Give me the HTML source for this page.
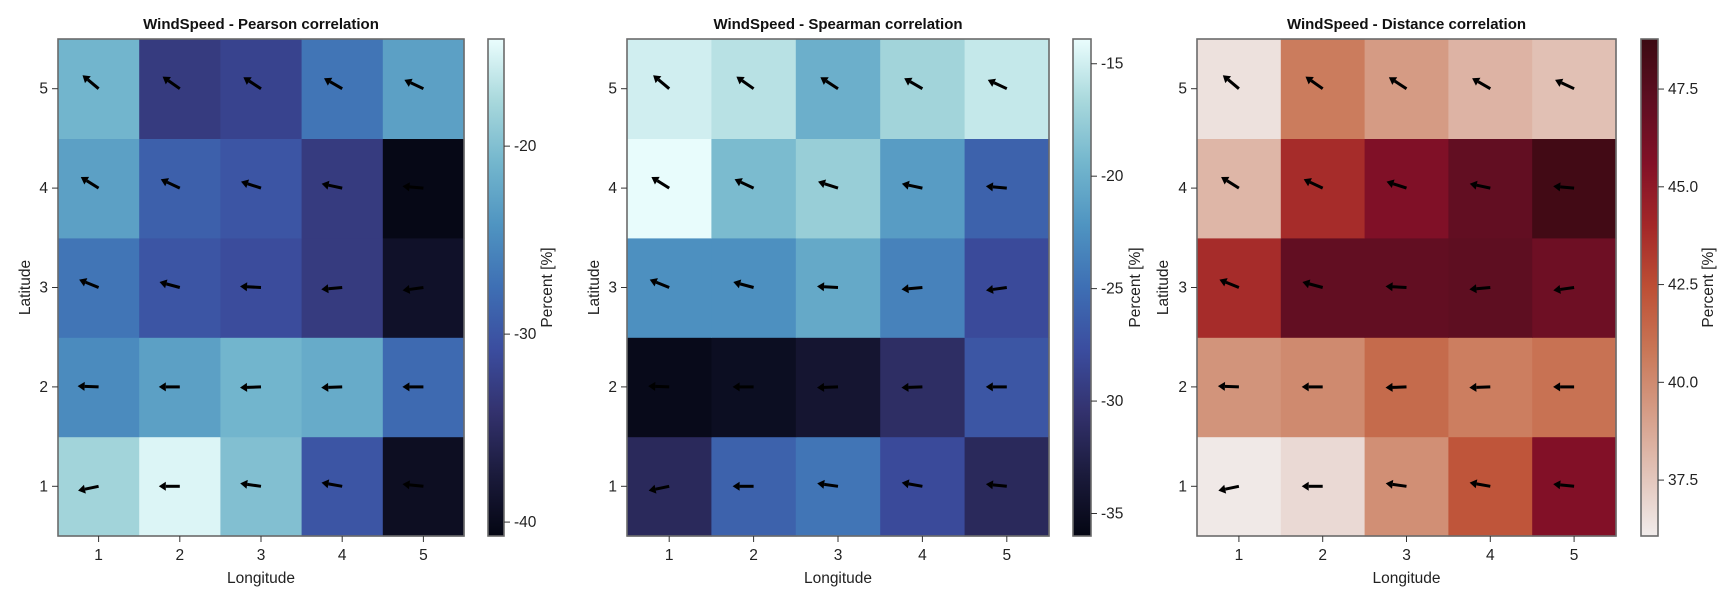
<!DOCTYPE html>
<html><head><meta charset="utf-8"><style>
body{margin:0;background:#fff;}
svg{display:block;font-family:"Liberation Sans",Arial,sans-serif;}
</style></head><body>
<svg id="fig" width="1720" height="600" viewBox="0 0 1720 600" xmlns="http://www.w3.org/2000/svg"></svg>
<script>
// Shared grid data
const lons = [1,2,3,4,5];
const lats = [1,2,3,4,5];
// wind direction vectors, rows indexed by latitude 1..5
const windU = [
 [-0.978,-1,-0.99,-0.985,-0.995],
 [-0.999,-1,-0.999,-0.999,-1],
 [-0.927,-0.966,-0.999,-0.996,-0.99],
 [-0.848,-0.906,-0.951,-0.978,-0.996],
 [-0.766,-0.819,-0.839,-0.866,-0.906]];
const windV = [
 [-0.208,0,0.139,0.174,0.105],
 [0.035,0,-0.035,-0.035,0],
 [0.375,0.259,0.052,-0.087,-0.139],
 [0.53,0.423,0.309,0.208,0.087],
 [0.643,0.574,0.545,0.5,0.423]];
// values rows indexed by latitude 1..5
const pearsonVals = [
 [-18,-15,-20,-30,-39.5],
 [-25,-23,-21,-22,-28],
 [-27,-30,-31,-33,-39],
 [-23,-29,-30,-33,-40.5],
 [-21,-33,-32,-27,-23]];
const spearmanVals = [
 [-31.5,-26,-24.5,-28,-31.5],
 [-35.5,-35,-34,-31,-27],
 [-22.5,-22.5,-20.5,-23.5,-28],
 [-14,-19,-17.5,-21.5,-26],
 [-15,-16,-20,-17,-15.5]];
const distanceVals = [
 [36.2,36.8,39.8,42.2,45.6],
 [39.6,40.0,41.3,40.5,41.0],
 [43.8,47,47,47.2,46.5],
 [38.2,43.8,45.7,47,48.5],
 [36.5,40.6,39.3,38.3,37.8]];
const pearsonTicks = [-40,-30,-20];
const spearmanTicks = [-35,-30,-25,-20,-15];
const distanceTicks = [37.5,40.0,42.5,45.0,47.5];

const ice = ["#040613","#1b1b3c","#33326e","#3b4d9f","#3e6fb4","#4f94c1","#73b6cd","#a8d8dc","#eafdfd"];
const amp = ["#f1eceb","#e2c3b8","#d59c86","#c97656","#bd4f35","#a32728","#821027","#5e0e21","#3c0912"];

const panels = [
 {title:"WindSpeed - Pearson correlation", vals:pearsonVals, ticks:pearsonTicks, dec:0, cmin:-40.74, cmax:-14.3, cmap:ice, x0:58, x1:464, cb0:488, cb1:504, ylab:25, clab:552, key:"pearson"},
 {title:"WindSpeed - Spearman correlation", vals:spearmanVals, ticks:spearmanTicks, dec:0, cmin:-36.0, cmax:-13.9, cmap:ice, x0:627, x1:1049, cb0:1073, cb1:1091, ylab:594, clab:1140, key:"spearman"},
 {title:"WindSpeed - Distance correlation", vals:distanceVals, ticks:distanceTicks, dec:1, cmin:36.07, cmax:48.78, cmap:amp, x0:1197, x1:1616, cb0:1641, cb1:1658, ylab:1163, clab:1713, key:"distance"}
];
const Y0=39, Y1=536;
const NS="http://www.w3.org/2000/svg";
const svg=document.getElementById("fig");
function mk(tag,attrs,parent){const e=document.createElementNS(NS,tag);for(const k in attrs)e.setAttribute(k,attrs[k]);(parent||svg).appendChild(e);return e;}
function hex(h){return [1,3,5].map(i=>parseInt(h.substr(i,2),16));}
function cmapColor(cm,t){t=Math.max(0,Math.min(1,t));const n=cm.length-1;const i=Math.min(n-1,Math.floor(t*n));const f=t*n-i;const a=hex(cm[i]),b=hex(cm[i+1]);return "rgb("+a.map((v,k)=>Math.round(v+(b[k]-v)*f)).join(",")+")";}

panels.forEach(p=>{
 const g=mk("g",{});
 
 
 const cw=(p.x1-p.x0)/5, ch=(Y1-Y0)/5;
 const xs=v=>p.x0+(v-0.5)*cw;
 const ys=v=>Y1-(v-0.5)*ch;
 const cs=v=>(v-p.cmin)/(p.cmax-p.cmin);
 const t=mk("text",{x:(p.x0+p.x1)/2,y:29,"text-anchor":"middle","font-size":"15","font-weight":"bold",fill:"#111"},g);
 t.textContent=p.title;
 
 
 lats.forEach((la,r)=>{lons.forEach((lo,c)=>{
  const rc=mk("rect",{x:xs(lo-0.5),y:ys(la+0.5),width:cw+0.6,height:ch+0.6,fill:cmapColor(p.cmap,cs(p.vals[r][c]))},g);
  
  
 });});
 lats.forEach((la,r)=>{lons.forEach((lo,c)=>{
  const L=21, tx=xs(lo), ty=ys(la);
  const u=windU[r][c], v=windV[r][c];
  const hx=tx+u*L, hy=ty-v*L;
  const px=-v, py=-u;
  const bx=hx-u*7, by=hy+v*7;
  const a=mk("g",{},g);
  
  
  mk("line",{x1:tx,y1:ty,x2:bx,y2:by,stroke:"#000","stroke-width":"3"},a);
  mk("polygon",{points:`${hx},${hy} ${bx+px*4.5},${by+py*4.5} ${bx-px*4.5},${by-py*4.5}`,fill:"#000"},a);
 });});
 const fr=mk("rect",{x:p.x0,y:Y0,width:p.x1-p.x0,height:Y1-Y0,fill:"none",stroke:"#6b6b6b","stroke-width":"1.6"},g);
 
 
 lons.forEach(lo=>{
  mk("line",{x1:xs(lo),y1:Y1,x2:xs(lo),y2:Y1+6,stroke:"#333","stroke-width":"1"},g);
  const tt=mk("text",{x:xs(lo),y:Y1+24,"text-anchor":"middle","font-size":"15.5",fill:"#222"},g);
  tt.textContent=lo;
  
  
 });
 lats.forEach(la=>{
  mk("line",{x1:p.x0-6,y1:ys(la),x2:p.x0,y2:ys(la),stroke:"#333","stroke-width":"1"},g);
  const tt=mk("text",{x:p.x0-10,y:ys(la)+5,"text-anchor":"end","font-size":"15.5",fill:"#222"},g);
  tt.textContent=la;
  
  
 });
 const xl=mk("text",{x:(p.x0+p.x1)/2,y:583,"text-anchor":"middle","font-size":"15.5",fill:"#222"},g);
 xl.textContent="Longitude";
 
 
 const yl=mk("text",{x:0,y:0,transform:`translate(${p.ylab+5},${(Y0+Y1)/2}) rotate(-90)`,"text-anchor":"middle","font-size":"15.5",fill:"#222"},g);
 yl.textContent="Latitude";
 
 
 const gid="grad-"+p.key;
 const defs=mk("defs",{},g);
 const lg=mk("linearGradient",{id:gid,x1:"0",y1:"1",x2:"0",y2:"0"},defs);
 p.cmap.forEach((c,i)=>mk("stop",{offset:(i/(p.cmap.length-1)),"stop-color":c},lg));
 const cb=mk("rect",{x:p.cb0,y:Y0,width:p.cb1-p.cb0,height:Y1-Y0,fill:`url(#${gid})`,stroke:"#6b6b6b","stroke-width":"1.6"},g);
 
 
 p.ticks.forEach(tv=>{
  const y=Y1-cs(tv)*(Y1-Y0);
  mk("line",{x1:p.cb1,y1:y,x2:p.cb1+6,y2:y,stroke:"#333","stroke-width":"1"},g);
  const tt=mk("text",{x:p.cb1+10,y:y+5,"font-size":"15.5",fill:"#222"},g);
  tt.textContent=tv.toFixed(p.dec);
  
  
 });
 const cl=mk("text",{x:0,y:0,transform:`translate(${p.clab},${(Y0+Y1)/2}) rotate(-90)`,"text-anchor":"middle","font-size":"15.5",fill:"#222"},g);
 cl.textContent="Percent [%]";
 
 
});
</script>
</body></html>
